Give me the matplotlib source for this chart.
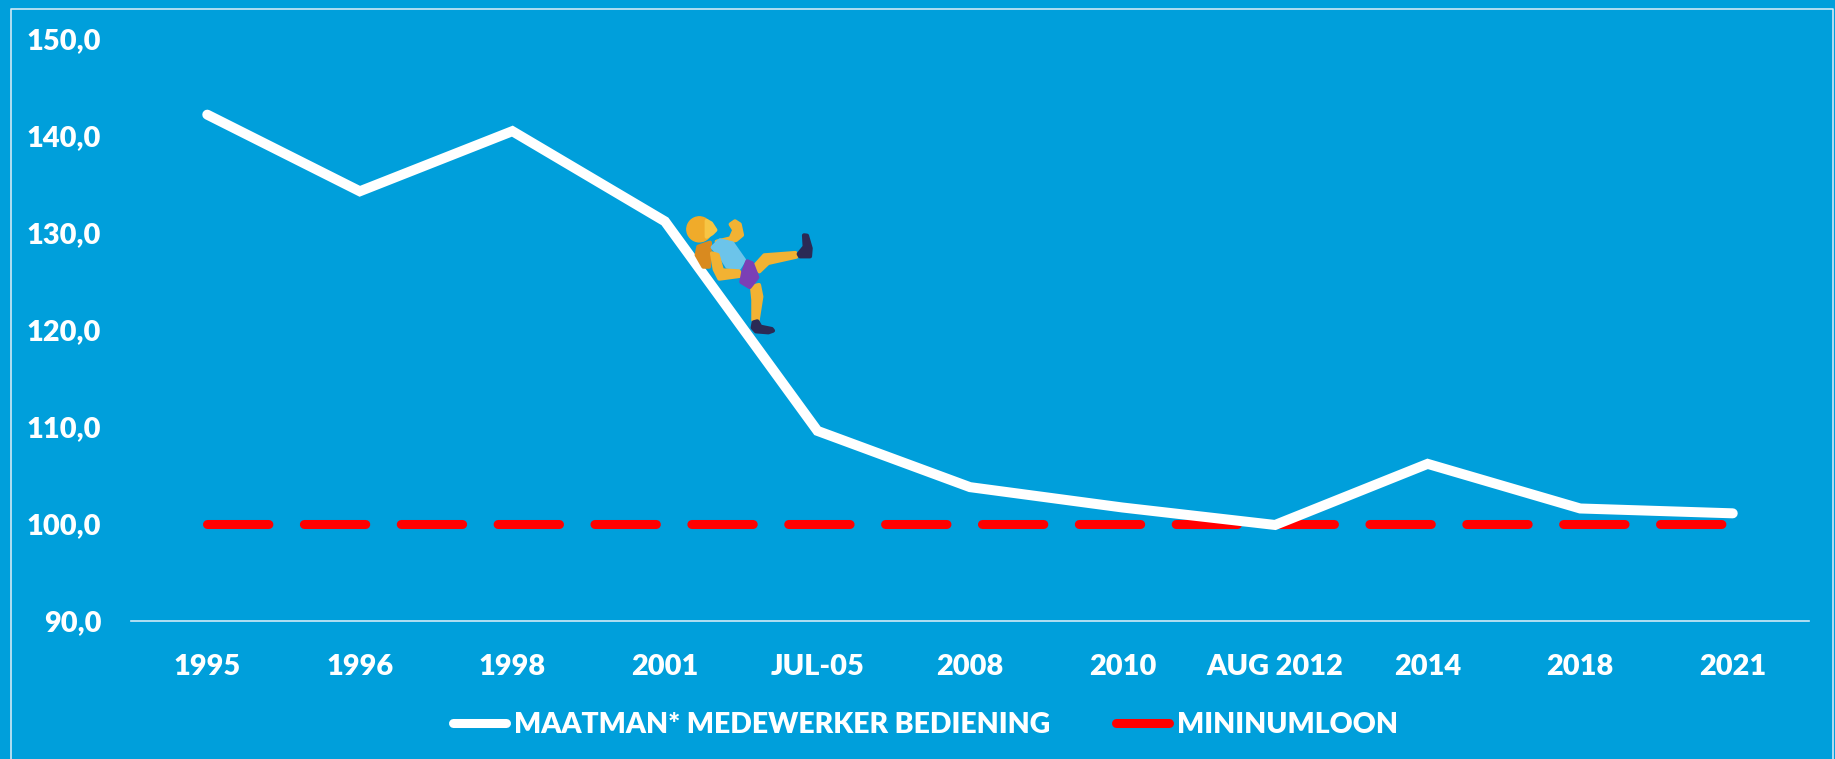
import matplotlib
matplotlib.use("Agg")
import matplotlib.pyplot as plt
from matplotlib.patches import Circle, Polygon

W, H = 1835, 759
BG = "#009FDB"

categories = ["1995", "1996", "1998", "2001", "JUL-05", "2008", "2010",
              "AUG 2012", "2014", "2018", "2021"]
maatman = [142.2, 134.3, 140.5, 131.2, 109.6, 103.8, 101.7, 99.9, 106.2, 101.6, 101.1]
minimumloon = [100.0] * 11
y_ticks = [90, 100, 110, 120, 130, 140, 150]
y_labels = ["90,0", "100,0", "110,0", "120,0", "130,0", "140,0", "150,0"]

plt.rcParams["font.family"] = ["Lato", "DejaVu Sans"]
plt.rcParams["font.weight"] = "heavy"

fig = plt.figure(figsize=(W / 100, H / 100), dpi=100, facecolor=BG)
ax = fig.add_axes([131 / W, 1 - 621 / H, (1809 - 131) / W, (621 - 39) / H], facecolor=BG)

x = list(range(len(categories)))
ax.plot(x, maatman, color="white", lw=7.2, solid_capstyle="round", solid_joinstyle="miter",
        label="MAATMAN* MEDEWERKER BEDIENING", zorder=3)
ax.plot(x, minimumloon, color="#FF0000", lw=6.5, dashes=(6.8, 3.93), dash_capstyle="round",
        label="MININUMLOON", zorder=2)

ax.set_xlim(-0.5, 10.5)
ax.set_ylim(90, 150)
ax.set_xticks(x, categories)
ax.set_yticks(y_ticks, y_labels)
ax.tick_params(length=0, colors="white", labelsize=20.8)
ax.tick_params(axis="x", pad=24)
ax.tick_params(axis="y", pad=21.5)
for s in ["top", "left", "right"]:
    ax.spines[s].set_visible(False)
ax.spines["bottom"].set_color("#CFE9F6")
ax.spines["bottom"].set_linewidth(1.2)

leg = fig.legend(loc="center", bbox_to_anchor=(925.5 / W, 1 - 725 / H), ncol=2, frameon=False,
                 fontsize=20.4, labelcolor="white", handlelength=1.88, handletextpad=0.3,
                 columnspacing=2.3)
for h in leg.get_lines():
    h.set_linewidth(6.5)
    h.set_linestyle("-")
    h.set_solid_capstyle("round")

# overlay in pixel coords, for the frame and the little climber
ov = fig.add_axes([0, 0, 1, 1], facecolor="none")
ov.set_xlim(0, W)
ov.set_ylim(H, 0)
ov.axis("off")

ov.plot([11, 11, 1833, 1833], [H, 9, 9, H], color="#CFE9F6", lw=1.2)

SKIN = "#F2B233"
SHOE = "#2B2A55"


def zp(zx, zy):
    # position in the 3x crop of the climber -> figure pixels
    return 640 + zx / 3, 190 + zy / 3


def blob(pts, c, z=6):
    # thick round edge takes the corners off the polygons
    ov.add_patch(Polygon([zp(*p) for p in pts], closed=True, fc=c, ec=c, lw=3,
                         joinstyle="round", zorder=z))


# backpack, head
blob([(175, 170), (210, 158), (207, 230), (190, 230), (170, 195)], "#D98A1F", 4)
ov.add_patch(Circle(zp(178, 118), 12.5, color="#F0AB2A", zorder=6))
blob([(200, 93), (213, 100), (226, 120), (216, 130), (200, 140)], "#F7C544", 7)
# back arm and fist
blob([(230, 155), (272, 145), (283, 120), (272, 103), (285, 94), (299, 103), (306, 135),
      (288, 150), (240, 160)], SKIN, 5)
# torso
blob([(218, 172), (240, 151), (277, 160), (312, 210), (297, 234), (262, 230), (242, 198)],
     "#6CC4EA", 6)
# front arm
blob([(216, 190), (233, 195), (246, 241), (296, 244), (304, 257), (238, 266), (224, 238)],
     SKIN, 7)
# legs
blob([(346, 226), (373, 196), (466, 189), (469, 200), (384, 219), (358, 244)], SKIN, 6)
blob([(336, 290), (357, 285), (364, 320), (353, 390), (340, 390), (340, 330)], SKIN, 6)
# shorts
blob([(322, 214), (336, 220), (352, 262), (329, 291), (304, 276), (310, 245)], "#7B3FB5", 7)
# shoes
blob([(492, 136), (501, 137), (512, 175), (510, 199), (480, 199), (476, 192), (494, 170)], SHOE, 7)
blob([(341, 397), (352, 394), (361, 410), (395, 417), (399, 422), (385, 427), (348, 424),
      (338, 413)], SHOE, 7)

fig.savefig("out.png", dpi=100, facecolor=BG)
